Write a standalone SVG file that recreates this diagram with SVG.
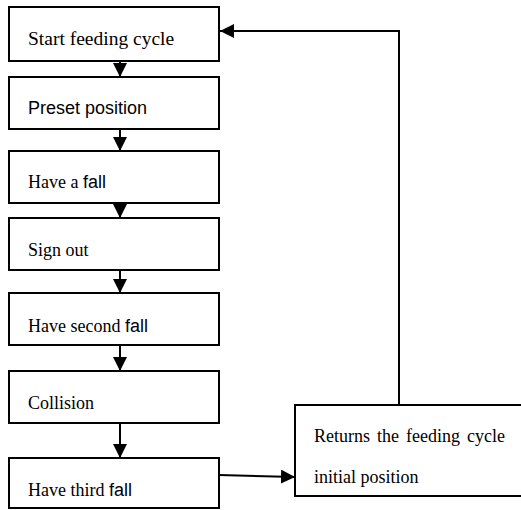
<svg xmlns="http://www.w3.org/2000/svg" width="521" height="510" viewBox="0 0 521 510">
<style>
.box{fill:#fff;stroke:#000;stroke-width:2}
.t{font-family:"Liberation Serif","Times New Roman",serif;font-size:18px;fill:#000}
.s{font-family:"Liberation Sans",Arial,sans-serif;font-size:18px}
.c{fill:none;stroke:#000;stroke-width:2}
</style>
<defs>
<marker id="ah" markerUnits="userSpaceOnUse" markerWidth="14" markerHeight="14" refX="14" refY="7" orient="auto">
<path d="M0,0 L14,7 L0,14 z" fill="#000"/>
</marker>
</defs>
<rect width="521" height="510" fill="#fff"/>
<g id="connectors">
<line class="c" x1="120" y1="61" x2="120" y2="77" marker-end="url(#ah)"/>
<line class="c" x1="120" y1="129" x2="120" y2="151" marker-end="url(#ah)"/>
<line class="c" x1="120" y1="203" x2="120" y2="218" marker-end="url(#ah)"/>
<line class="c" x1="120" y1="270" x2="120" y2="293" marker-end="url(#ah)"/>
<line class="c" x1="120" y1="345" x2="120" y2="371" marker-end="url(#ah)"/>
<line class="c" x1="120" y1="423" x2="120" y2="458" marker-end="url(#ah)"/>
<line class="c" x1="219" y1="475" x2="295" y2="477" marker-end="url(#ah)"/>
<polyline class="c" points="399,405 399,31 220,31" marker-end="url(#ah)"/>
</g>
<g id="n1"><rect class="box" x="9" y="7" width="210" height="54"/><text class="t" x="28" y="45" style="font-size:19.5px">Start feeding cycle</text></g>
<g id="n2"><rect class="box" x="9" y="77" width="210" height="52"/><text class="t s" x="28" y="114">Preset position</text></g>
<g id="n3"><rect class="box" x="9" y="151" width="210" height="52"/><text class="t" x="28" y="188">Have a <tspan class="s">fall</tspan></text></g>
<g id="n4"><rect class="box" x="9" y="218" width="210" height="52"/><text class="t" x="28" y="256">Sign out</text></g>
<g id="n5"><rect class="box" x="9" y="293" width="210" height="52"/><text class="t" x="28" y="332">Have second <tspan class="s">fall</tspan></text></g>
<g id="n6"><rect class="box" x="9" y="371" width="210" height="52"/><text class="t" x="28" y="409">Collision</text></g>
<g id="n7"><rect class="box" x="9" y="458" width="210" height="50"/><text class="t" x="28" y="496">Have third <tspan class="s">fall</tspan></text></g>
<g id="n8"><rect class="box" x="295" y="405" width="230" height="91"/><text class="t" x="314" y="442" word-spacing="2.5">Returns the feeding cycle</text><text class="t" x="314" y="483">initial position</text></g>
</svg>
